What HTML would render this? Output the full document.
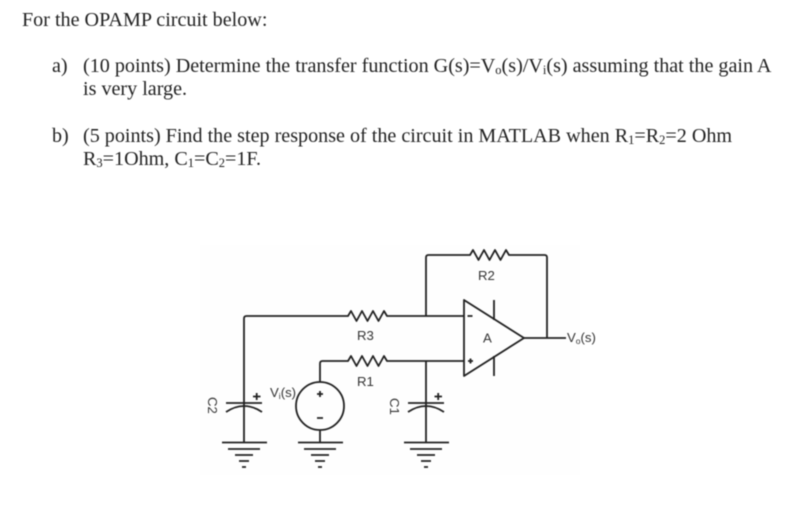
<!DOCTYPE html>
<html><head><meta charset="utf-8"><style>
html,body{margin:0;padding:0;background:#fff}
#p{position:relative;width:795px;height:507px;overflow:hidden;background:#fff;filter:blur(.4px)}
.t{position:absolute;font:20.13px/23px "Liberation Serif",serif;color:#222;white-space:nowrap}
.t sub{font-size:12.5px;line-height:0;vertical-align:-2px}
svg{position:absolute;left:0;top:0}
svg text{font-family:"Liberation Sans",sans-serif;font-size:13.2px;fill:#333}
</style></head><body><div id="p">
<div class="t" style="left:22px;top:9px">For the OPAMP circuit below:</div>
<div class="t" style="left:52px;top:55px">a)</div>
<div class="t" style="left:83px;top:55px">(10 points) Determine the transfer function G(s)=V<sub>o</sub>(s)/V<sub>i</sub>(s) assuming that the gain A</div>
<div class="t" style="left:83px;top:78px">is very large.</div>
<div class="t" style="left:52px;top:125px">b)</div>
<div class="t" style="left:83px;top:125px">(5 points) Find the step response of the circuit in MATLAB when R<sub>1</sub>=R<sub>2</sub>=2 Ohm</div>
<div class="t" style="left:83px;top:148px">R<sub>3</sub>=1Ohm, C<sub>1</sub>=C<sub>2</sub>=1F.</div>
<svg width="795" height="507" viewBox="0 0 795 507">
<rect x="200" y="245" width="380" height="230" fill="#fefefe"/>
<g fill="none" stroke="#222" stroke-width="1.8" stroke-linejoin="round">
<path d="M244 442V318.500q0-2.500 2.500-2.500H348l3-5 5.500 10 5.500-10 5.500 10 5.500-10 5.500 10 5.500-10 3 5H464"/>
<path d="M320 382V363.500q0-2.500 2.500-2.500H348l3-5 5.500 10 5.500-10 5.500 10 5.500-10 5.500 10 5.500-10 3 5H464"/>
<path d="M426 316V257.500q0-2.500 2.500-2.500H470l3-5 5.500 10 5.500-10 5.500 10 5.500-10 5.500 10 5.500-10 3 5H544.500q2.500 0 2.500 2.500V338"/>
<path d="M426 361V442"/>
<path d="M464 300V376L524 338Z"/>
<path d="M494 300V320M494 356V376"/>
<path d="M524 338H566"/>
<circle cx="320" cy="406" r="24"/>
<path d="M320 430V442"/>
<path d="M226 403H262M226 412Q244 400 262 412"/>
<path d="M408 403H444M408 412Q426 400 444 412"/>
<path d="M222 442.500H267M228 449H260M235 455H253M239 461H249M242 467H246"/>
<path d="M298 442.500H343M304 449H336M311 455H329M315 461H325M318 467H322"/>
<path d="M404 442.500H449M410 449H442M417 455H435M421 461H431M424 467H428"/>
<path d="M253 396.500H260.500M256.700 393V400M434.500 396.500H442M438.200 393V400M317 394H323M320 391V397M317 418H323"/>
<path d="M467.500 316H472.500M468 361H473M470.500 358.500V363.500"/>
</g>
<text x="357" y="340">R3</text>
<text x="357" y="386">R1</text>
<text x="478" y="280">R2</text>
<text x="483" y="342.500">A</text>
<text x="567" y="342">V<tspan font-size="8.500" dy="2">o</tspan><tspan dy="-2">(s)</tspan></text>
<text x="270" y="397">V<tspan font-size="8.500" dy="2">i</tspan><tspan dy="-2">(s)</tspan></text>
<text transform="translate(208,397) rotate(90)">C2</text>
<text transform="translate(390,398) rotate(90)">C1</text>
</svg>
</div></body></html>
